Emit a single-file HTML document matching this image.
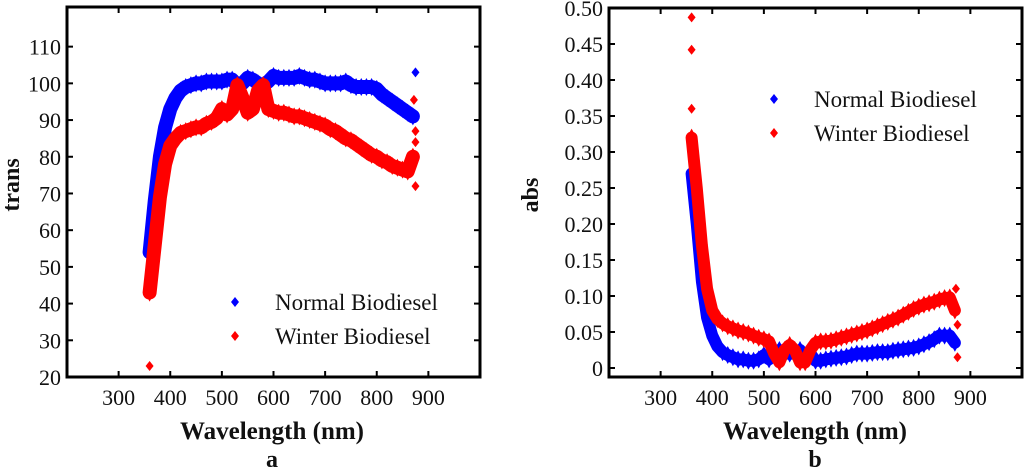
<!DOCTYPE html>
<html><head><meta charset="utf-8"><style>
body{margin:0;background:#fff;width:1024px;height:468px;overflow:hidden}
svg text{font-family:"Liberation Serif",serif;fill:#111}
</style></head><body>
<svg id="c" width="1024" height="468"></svg>
<script>
const wl=[360,370,380,390,400,410,420,430,440,450,460,470,480,490,500,510,520,530,540,550,560,570,580,590,600,610,620,630,640,650,660,670,680,690,700,710,720,730,740,750,760,770,780,790,800,810,820,830,840,850,860,870];
const transNormal=[54,68,80,88,93,96,98,99,99.5,100,100,100.5,100.5,100.5,100.5,101,101,99.5,100,101.5,101,100,99.5,100.5,102,101.5,101.5,101.5,101.5,102,101.5,101,101,100.5,100,100,100,100,100.5,99.5,99,99,99,99,98.5,97,96,95,94,93,92,91];
const transWinter=[43,56,69,78,83,85,86.5,87,87.5,88,88,89,89.5,90.5,93,91.5,93,99.5,96,92,93,98,99.5,93,92.5,92,92,91.5,91,91,90.5,90,89.5,89,88.5,87.5,87,86,85,84.5,83.5,82.5,81.5,80.5,80,79,78.5,77.5,77,76.5,76,80];
const absNormal=[.27,.2,.12,.07,.045,.03,.022,.018,.015,.012,.012,.01,.01,.012,.018,.012,.02,.025,.02,.02,.02,.025,.015,.02,.01,.01,.012,.013,.014,.015,.016,.018,.02,.02,.02,.021,.022,.022,.022,.024,.025,.026,.027,.028,.03,.033,.036,.04,.045,.045,.045,.035];
const absWinter=[.32,.25,.17,.11,.08,.068,.062,.058,.055,.052,.05,.048,.045,.042,.04,.037,.02,.008,.025,.032,.025,.008,.008,.025,.035,.037,.037,.038,.04,.042,.044,.046,.048,.05,.052,.055,.058,.061,.064,.067,.07,.074,.078,.082,.085,.088,.09,.092,.095,.097,.098,.08];
const transOutX=[360,872,875,875,875,875];const transOutY=[23,95.5,103,72,87,84];
const absOutX=[360,360,360,875,875,872];const absOutY=[.487,.442,.36,.015,.06,.11];
const xTicks=[300,400,500,600,700,800,900];
const transTicks=[20,30,40,50,60,70,80,90,100,110];
const absTicks=[0,.05,.1,.15,.2,.25,.3,.35,.4,.45,.5];
const absLabels=["0","0.05","0.10","0.15","0.20","0.25","0.30","0.35","0.40","0.45","0.50"];
const NS="http://www.w3.org/2000/svg";const svg=document.getElementById('c');
function el(t,a,p){const e=document.createElementNS(NS,t);for(const k in a)e.setAttribute(k,a[k]);(p||svg).appendChild(e);return e;}
function panel(o){
 const g=el('g',{});
 
 
 const X=v=>o.x0+(v-200)/800*(o.x1-o.x0);
 const Y=v=>o.yb-(v-o.ymin)/(o.ymax-o.ymin)*(o.yb-o.yt);
 function series(vals,col,nm){
  const sg=el('g',{},g);
  
  
  el('polyline',{points:wl.map((w,i)=>X(w)+','+Y(vals[i])).join(' '),fill:'none',stroke:col,'stroke-width':o.sw,'stroke-linejoin':'round','stroke-linecap':'round'},sg);
  wl.forEach((w,i)=>{const x=X(w),y=Y(vals[i]);el('path',{d:`M${x} ${y-9}L${x+5} ${y}L${x} ${y+9}L${x-5} ${y}Z`,fill:col},sg);});
 }
 series(o.blue,'#0000ff',o.pre+'-normal-series');
 series(o.red,'#ff0000',o.pre+'-winter-series');
 o.ox.forEach((w,i)=>{const x=X(w),y=Y(o.oy[i]);const d=el('path',{d:`M${x} ${y-5}L${x+4} ${y}L${x} ${y+5}L${x-4} ${y}Z`,fill:i==2&&o.pre=='trans'?'#0000ff':'#ff0000'},g);
  
  });
 el('rect',{x:o.x0,y:o.yt,width:o.x1-o.x0,height:o.yb-o.yt,fill:'none',stroke:'#000','stroke-width':3},g);
 xTicks.forEach(v=>{const x=X(v);el('line',{x1:x,x2:x,y1:o.yb,y2:o.yb-6,stroke:'#000','stroke-width':2},g);el('line',{x1:x,x2:x,y1:o.yt,y2:o.yt+6,stroke:'#000','stroke-width':2},g);
  const t=el('text',{x:x,y:405,'text-anchor':'middle','font-size':22},g);t.textContent=v;
  
  });
 o.ticks.forEach((v,i)=>{const y=Y(v);el('line',{x1:o.x0,x2:o.x0+6,y1:y,y2:y,stroke:'#000','stroke-width':2},g);el('line',{x1:o.x1,x2:o.x1-6,y1:y,y2:y,stroke:'#000','stroke-width':2},g);
  const t=el('text',{x:o.x0-6,y:y+8,'text-anchor':'end','font-size':22},g);t.textContent=o.labels[i];
  
  });
 const xt=el('text',{x:o.tx,y:439,'text-anchor':'middle','font-size':25,'font-weight':'bold'},g);xt.textContent='Wavelength (nm)';
 
 
 const pl=el('text',{x:o.tx,y:467,'text-anchor':'middle','font-size':24,'font-weight':'bold'},g);pl.textContent=o.letter;
 
 
 const yt=el('text',{x:o.ytx,y:o.yty,'text-anchor':'middle','font-size':24,'font-weight':'bold',transform:`rotate(-90 ${o.ytx} ${o.yty})`},g);yt.textContent=o.ytitle;
 
 
 [['Normal Biodiesel','#0000ff',0],[o.wname,'#ff0000',1]].forEach(([n,c,i])=>{const y=o.ly+i*34;
  const lg=el('g',{},g);
  
  
  el('path',{d:`M${o.lx} ${y-5}L${o.lx+4} ${y}L${o.lx} ${y+5}L${o.lx-4} ${y}Z`,fill:c},lg);
  const t=el('text',{x:o.ltx,y:y+8,'font-size':23,'xml:space':'preserve'},lg);t.textContent=n;});
}
panel({name:'transmittance-chart',pre:'trans',sw:14,x0:67,x1:480,yt:7,yb:377,ymin:20,ymax:120.8,blue:transNormal,red:transWinter,ox:transOutX,oy:transOutY,ticks:transTicks,labels:transTicks.map(String),tx:272,letter:'a',ytitle:'trans',ytx:19,yty:185,lx:235,ly:302,ltx:275,wname:'Winter Biodiesel'});
panel({name:'absorbance-chart',pre:'abs',sw:12,x0:609,x1:1022,yt:8,yb:377,ymin:-0.0125,ymax:0.5,blue:absNormal,red:absWinter,ox:absOutX,oy:absOutY,ticks:absTicks,labels:absLabels,tx:815,letter:'b',ytitle:'abs',ytx:538,yty:195,lx:774,ly:99,ltx:814,wname:'Winter  Biodiesel'});
</script>
</body></html>
